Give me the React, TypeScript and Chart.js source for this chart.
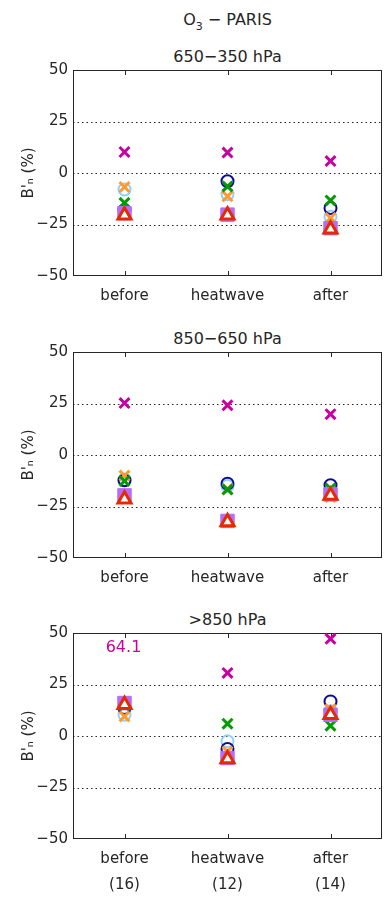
import React, { useEffect, useRef } from 'react';
import { Chart, registerables } from 'chart.js';

Chart.register(...registerables);

// ---------- data ----------
const categories = ['before', 'heatwave', 'after'];
const sampleCounts = ['(16)', '(12)', '(14)'];
const yTicks = [-50, -25, 0, 25, 50];
const panelTitles = ['650\u2212350 hPa', '850\u2212650 hPa', '>850 hPa'];

// Panel 1 : 650-350 hPa
const p1Magenta = [10.2, 9.9, 5.8];
const p1Red = [-20.5, -20.5, -27.3];
const p1Purple = [-19.5, -20.2, -26.8];
const p1Green = [-14.5, -6.5, -13.3];
const p1Orange = [-6.8, -11.3, -21.8];
const p1Navy = [-18, -4, -17];
const p1LightBlue = [-8, -10.3, -21.2];

// Panel 2 : 850-650 hPa
const p2Magenta = [25.2, 24.1, 19.8];
const p2Red = [-21.5, -32.5, -19.6];
const p2Purple = [-19.6, -32, -19.1];
const p2Green = [-12.6, -16.8, -16.3];
const p2Orange = [-10, -16.5, -20.4];
const p2Navy = [-12.3, -13.9, -14.7];
const p2LightBlue = [-12, -15, -18.5];

// Panel 3 : >850 hPa
const p3Magenta = [64.1, 30.6, 47.2];
const p3Red = [15.2, -11.2, 10.3];
const p3Purple = [16, -10.7, 10.3];
const p3Green = [14.8, 6, 5];
const p3Orange = [9.5, -7.5, 13];
const p3Navy = [13.6, -6.3, 16.8];
const p3LightBlue = [10.3, -2.6, 12];

const panelData = [
  [p1Magenta, p1Red, p1Purple, p1Green, p1Orange, p1Navy, p1LightBlue],
  [p2Magenta, p2Red, p2Purple, p2Green, p2Orange, p2Navy, p2LightBlue],
  [p3Magenta, p3Red, p3Purple, p3Green, p3Orange, p3Navy, p3LightBlue],
];

// ---------- styles (first dataset is drawn on top) ----------
const FONT = '"DejaVu Sans", sans-serif';
const INK = '#262626';
const seriesStyles = [
  { color: '#c800a0', pointStyle: 'crossRot', radius: 7, borderWidth: 3, fill: 'transparent' },
  { color: '#e62a00', pointStyle: 'triangle', radius: 7.5, borderWidth: 3, fill: '#ffffff' },
  { color: '#b66cf8', pointStyle: 'rect', radius: 9.5, borderWidth: 1, fill: '#b66cf8' },
  { color: '#049a04', pointStyle: 'crossRot', radius: 7, borderWidth: 3, fill: 'transparent' },
  { color: '#ff9a2e', pointStyle: 'crossRot', radius: 7, borderWidth: 3, fill: 'transparent' },
  { color: '#0a0a96', pointStyle: 'circle', radius: 6, borderWidth: 2, fill: 'transparent' },
  { color: '#8fd0ff', pointStyle: 'circle', radius: 6, borderWidth: 2, fill: 'transparent' },
];

const framePlugin = {
  id: 'idlFrame',
  beforeDatasetsDraw(chart: any) {
    const { ctx, chartArea: a, scales } = chart;
    const x = scales.x;
    const y = scales.y;
    ctx.save();
    ctx.strokeStyle = INK;
    ctx.lineWidth = 1;
    // dotted grid lines
    ctx.setLineDash([1.5, 3]);
    for (const t of y.ticks) {
      if (t.value <= y.min || t.value >= y.max) continue;
      const py = Math.round(y.getPixelForValue(t.value)) + 0.5;
      ctx.beginPath();
      ctx.moveTo(a.left, py);
      ctx.lineTo(a.right, py);
      ctx.stroke();
    }
    ctx.setLineDash([]);
    // frame
    ctx.strokeRect(Math.round(a.left) + 0.5, Math.round(a.top) + 0.5, Math.round(a.right - a.left) - 1, Math.round(a.bottom - a.top) - 1);
    // inward ticks at categories
    categories.forEach((_, i) => {
      const px = Math.round(x.getPixelForValue(i)) + 0.5;
      ctx.beginPath();
      ctx.moveTo(px, a.top);
      ctx.lineTo(px, a.top + 5);
      ctx.moveTo(px, a.bottom);
      ctx.lineTo(px, a.bottom - 5);
      ctx.stroke();
    });
    ctx.restore();
  },
  afterDatasetsDraw(chart: any) {
    const { ctx, chartArea: a, scales } = chart;
    const x = scales.x;
    const y = scales.y;
    ctx.save();
    ctx.font = '16px ' + FONT;
    ctx.textAlign = 'center';
    ctx.textBaseline = 'middle';
    chart.data.datasets.forEach((ds: any) => {
      ds.data.forEach((v: number, i: number) => {
        if (v > y.max) {
          ctx.fillStyle = ds.borderColor;
          ctx.fillText(v.toFixed(1), x.getPixelForValue(i) - 1, a.top + 15);
        }
      });
    });
    ctx.restore();
  },
};

const TITLE_BLOCK = 24;
const PLOT_H = 206;
const PLOT_LEFT = 73;
const PLOT_RIGHT = 382;

function Panel({ index, top, xAxisHeight, showCounts }: { index: number; top: number; xAxisHeight: number; showCounts: boolean }) {
  const ref = useRef<HTMLCanvasElement>(null);
  const height = TITLE_BLOCK + PLOT_H + xAxisHeight;
  useEffect(() => {
    if (!ref.current) return;
    const labels = categories.map((c, i) => (showCounts ? [c, sampleCounts[i]] : c));
    const chart = new Chart(ref.current, {
      type: 'line',
      data: {
        labels,
        datasets: panelData[index].map((vals, k) => {
          const s = seriesStyles[k];
          return {
            data: vals,
            showLine: false,
            pointStyle: s.pointStyle as any,
            pointRadius: s.radius,
            pointBorderWidth: s.borderWidth,
            pointBorderColor: s.color,
            pointBackgroundColor: s.fill,
            borderColor: s.color,
            backgroundColor: s.fill,
          };
        }),
      },
      options: {
        responsive: false,
        animation: false,
        devicePixelRatio: 1,
        layout: { autoPadding: false, padding: { left: 0, right: 385 - PLOT_RIGHT, top: TITLE_BLOCK, bottom: 0 } },
        plugins: {
          legend: { display: false },
          tooltip: { enabled: false },
          title: { display: false },
        },
        scales: {
          x: {
            type: 'category',
            offset: true,
            grid: { display: false, drawTicks: false },
            border: { display: false },
            ticks: { color: INK, font: { family: FONT, size: 15, lineHeight: '26px' as any }, padding: 7, maxRotation: 0, autoSkip: false },
            afterFit: (scale: any) => {
              scale.height = xAxisHeight;
              scale.paddingLeft = 0;
              scale.paddingRight = 0;
            },
          },
          y: {
            min: -50,
            max: 50,
            afterBuildTicks: (scale: any) => {
              scale.ticks = yTicks.map((v) => ({ value: v }));
            },
            grid: { display: false, drawTicks: false },
            border: { display: false },
            ticks: {
              color: INK,
              font: { family: FONT, size: 15 },
              padding: 5,
              callback: (v: any) => String(v).replace('-', '\u2212'),
            },
            title: {
              display: true,
              text: "B'\u2099 (%)",
              color: INK,
              font: { family: FONT, size: 15 },
              padding: { top: 20, bottom: 0 },
            },
            afterFit: (scale: any) => {
              scale.width = PLOT_LEFT;
            },
          },
        },
      },
      plugins: [framePlugin],
    });
    return () => chart.destroy();
  }, [index, xAxisHeight, showCounts]);
  return (
    <>
      <div
        style={{
          position: 'absolute',
          left: PLOT_LEFT,
          top: top + 1,
          width: PLOT_RIGHT - PLOT_LEFT,
          textAlign: 'center',
          fontSize: 16,
          lineHeight: '20px',
          whiteSpace: 'nowrap',
        }}
      >
        {panelTitles[index]}
      </div>
      <canvas
        ref={ref}
        width={385}
        height={height}
        style={{ position: 'absolute', left: 0, top, width: 385, height, display: 'block' }}
      />
    </>
  );
}

export default function App() {
  return (
    <div style={{ position: 'absolute', left: 0, top: 0, width: 385, height: 897, background: '#fff', fontFamily: FONT, color: INK, overflow: 'hidden' }}>
      <div style={{ position: 'absolute', left: PLOT_LEFT, top: 10, width: PLOT_RIGHT - PLOT_LEFT, textAlign: 'center', fontSize: 16, lineHeight: '20px' }}>
        O<sub style={{ fontSize: 11, verticalAlign: '-5px', lineHeight: 0 }}>3</sub>
        {' \u2212 PARIS'}
      </div>
      <Panel index={0} top={46} xAxisHeight={40} showCounts={false} />
      <Panel index={1} top={328} xAxisHeight={40} showCounts={false} />
      <Panel index={2} top={609} xAxisHeight={57} showCounts={true} />
    </div>
  );
}
